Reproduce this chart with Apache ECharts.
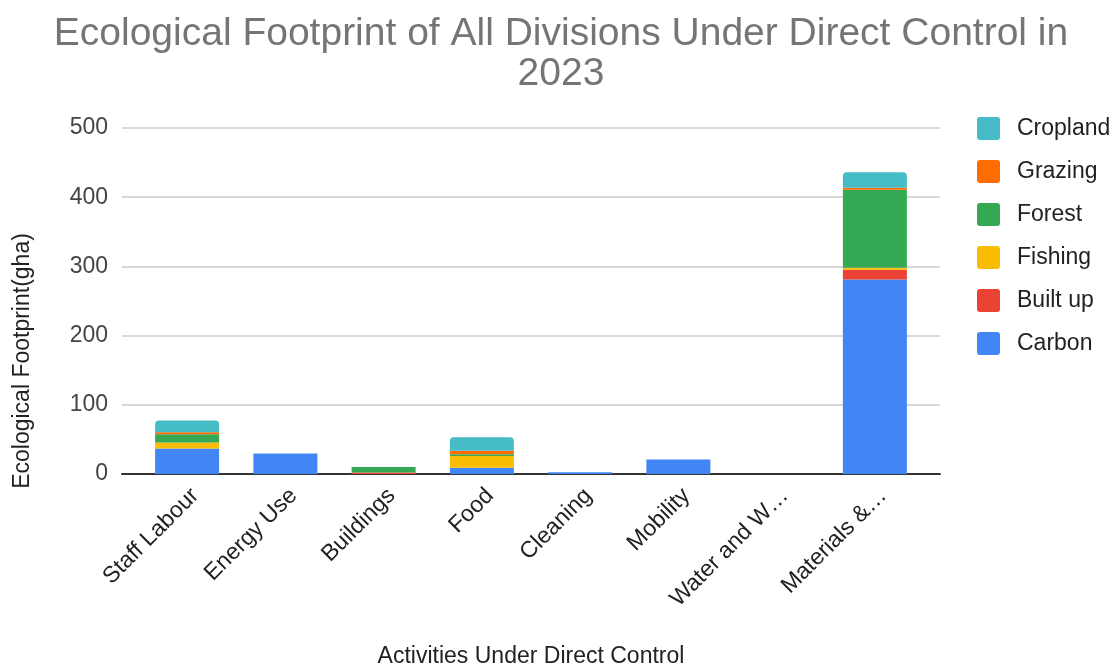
<!DOCTYPE html>
<html>
<head>
<meta charset="utf-8">
<script src="https://cdn.jsdelivr.net/npm/echarts@6/dist/echarts.min.js"></script>
<style>
  html, body { margin: 0; padding: 0; background: #fff; }
  #chart { width: 1113px; height: 664px; }
</style>
</head>
<body>
<div id="chart"></div>
<script>
// Activities and their footprint components (gha)
const categories = ['Staff Labour', 'Energy Use', 'Buildings', 'Food', 'Cleaning', 'Mobility', 'Water and W…', 'Materials &…'];
const carbon   = [37,   29.5, 0,   9,   2.5, 21, 0, 281];
const builtUp  = [0,    0,    2,   0,   0,   0,  0, 14];
const fishing  = [8.7,  0,    0,   17,  0,   0,  0, 3];
const forest   = [11.6, 0,    8,   2.5, 0,   0,  0, 112.7];
const grazing  = [2.9,  0,    0,   5,   0,   0,  0, 3];
const cropland = [17,   0,    0,   19.6,0,   0,  0, 22.5];
const yTicks = [0, 100, 200, 300, 400, 500];

const FONT = '"Liberation Sans", Arial, sans-serif';

const seriesDefs = [
  { name: 'Carbon',   data: carbon,   color: '#4285F4' },
  { name: 'Built up', data: builtUp,  color: '#EA4335' },
  { name: 'Fishing',  data: fishing,  color: '#FBBC04' },
  { name: 'Forest',   data: forest,   color: '#34A853' },
  { name: 'Grazing',  data: grazing,  color: '#FF6D01' },
  { name: 'Cropland', data: cropland, color: '#46BDC6' }
];

// small-radius rounded square for legend swatches
const SWATCH = 'path://M3,0H20A3,3 0 0 1 23,3V20A3,3 0 0 1 20,23H3A3,3 0 0 1 0,20V3A3,3 0 0 1 3,0Z';

const chart = echarts.init(document.getElementById('chart'), null, { renderer: 'canvas' });

chart.setOption({
  animation: false,
  textStyle: { fontFamily: FONT },
  title: {
    text: 'Ecological Footprint of All Divisions Under Direct Control in\n2023',
    left: 561,
    top: 14,
    padding: 0,
    textAlign: 'center',
    textStyle: { fontFamily: FONT, fontSize: 39, fontWeight: 'normal', color: '#757575', lineHeight: 40 }
  },
  legend: {
    orient: 'vertical',
    left: 977,
    top: 117,
    padding: 0,
    itemWidth: 23,
    itemHeight: 23,
    itemGap: 20,
    icon: SWATCH,
    data: ['Cropland', 'Grazing', 'Forest', 'Fishing', 'Built up', 'Carbon'],
    textStyle: { fontFamily: FONT, fontSize: 23, color: '#222', padding: [0, 0, 0, 12] }
  },
  grid: [
    // frame for gridlines and baseline
    { left: 122, right: 173, top: 128, bottom: 190, outerBoundsMode: 'none', containLabel: false },
    // inner band for the category bars
    { left: 138, right: 189, top: 128, bottom: 190, outerBoundsMode: 'none', containLabel: false }
  ],
  xAxis: [
    {
      gridIndex: 0, type: 'value', min: 0, max: 1, z: 0,
      axisLine: { show: true, lineStyle: { color: '#333', width: 2 } },
      axisTick: { show: false }, axisLabel: { show: false }, splitLine: { show: false },
      name: 'Activities Under Direct Control',
      nameLocation: 'middle',
      nameGap: 171,
      nameTextStyle: { fontFamily: FONT, fontSize: 23, color: '#222' }
    },
    {
      gridIndex: 1, type: 'category', data: categories,
      axisLine: { show: false }, axisTick: { show: false },
      axisLabel: { rotate: 45, interval: 0, margin: 10, verticalAlign: 'top', fontFamily: FONT, fontSize: 23, color: '#222' }
    }
  ],
  yAxis: [
    {
      gridIndex: 0, type: 'value', min: yTicks[0], max: yTicks[yTicks.length - 1], interval: 100,
      axisLine: { show: false }, axisTick: { show: false },
      axisLabel: { margin: 14, fontFamily: FONT, fontSize: 23, color: '#444' },
      splitLine: { lineStyle: { color: '#cccccc', width: 1.5 } },
      name: 'Ecological Footprint(gha)',
      nameLocation: 'middle',
      nameGap: 88,
      nameTextStyle: { fontFamily: FONT, fontSize: 23, color: '#222', padding: [0, 120, 0, 0] }
    },
    {
      gridIndex: 1, type: 'value', min: yTicks[0], max: yTicks[yTicks.length - 1], interval: 100,
      show: false, splitLine: { show: false }
    }
  ],
  series: seriesDefs.map((s, i) => ({
    name: s.name,
    type: 'bar',
    stack: 'footprint',
    xAxisIndex: 1,
    yAxisIndex: 1,
    barWidth: 64,
    data: s.data,
    itemStyle: {
      color: s.color,
      borderRadius: i === seriesDefs.length - 1 ? [4, 4, 0, 0] : 0
    },
    z: 3
  }))
});
</script>
</body>
</html>
